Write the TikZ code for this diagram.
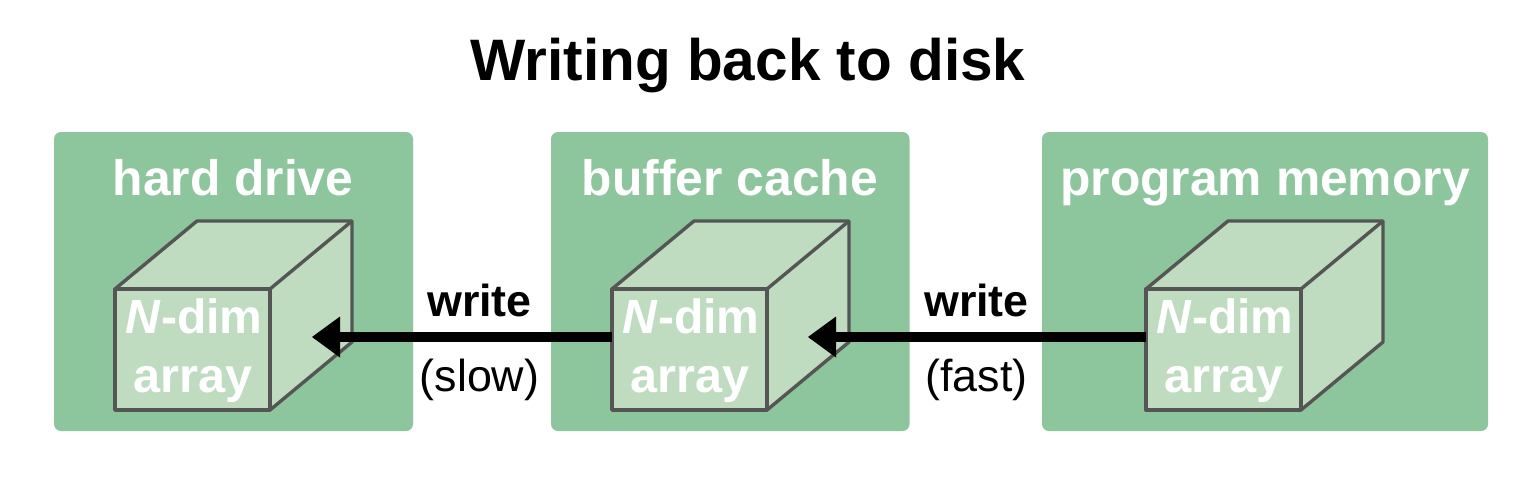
\documentclass[tikz,border=0pt]{standalone}
\usepackage{fontspec}
\setmainfont{Liberation Sans}
\usetikzlibrary{arrows.meta}
\definecolor{boxg}{HTML}{8DC59C}
\definecolor{faceg}{HTML}{BFDCC1}
\definecolor{edgeg}{HTML}{555555}
\tikzset{x=1pt,y=-1pt,
 panel/.style={fill=boxg,rounded corners=7pt,draw=none},
 cubeface/.style={fill=faceg,draw=edgeg,line width=3.4pt,line join=round},
 paneltitle/.style={text=white,font=\bfseries\fontsize{49.8}{50}\selectfont,inner sep=0,anchor=base},
 facetext/.style={text=white,font=\bfseries\fontsize{48.6}{50}\selectfont,inner sep=0,anchor=base},
 dimtext/.style={text=white,font=\bfseries\fontsize{48}{50}\selectfont,inner sep=0,anchor=base},
 lab/.style={text=black,font=\fontsize{44.8}{45}\selectfont,inner sep=0,anchor=base},
 labb/.style={text=black,font=\bfseries\fontsize{44.8}{45}\selectfont,inner sep=0,anchor=base},
 wr/.style={line width=9.5pt,draw=black,-{Triangle[length=28pt,width=41pt,line width=0pt]}}}
\newcommand{\mycube}[2]{%
 \draw[cubeface] (#1,#2) -- (#1+82,#2-68) -- (#1+237,#2-68) -- (#1+237,#2+53) -- (#1+155,#2+121) -- (#1,#2+121) -- cycle;
 \draw[cubeface] (#1,#2) rectangle (#1+155,#2+121);
 \draw[cubeface,fill=none] (#1+155,#2) -- (#1+237,#2-68);
 \node[dimtext] at (#1+79,#2+44) {\textit{N}-dim};
 \node[facetext] at (#1+78,#2+103) {array};
}
\begin{document}
\begin{tikzpicture}
\useasboundingbox (0,0) rectangle (1540,482);
\fill[white] (0,0) rectangle (1540,482);
\node[inner sep=0,anchor=base,font=\bfseries\fontsize{58.5}{60}\selectfont] (title) at (748,80) {Writing back to disk};
\fill[panel] (54,132) rectangle (413,431);
\fill[panel] (551,132) rectangle (909.5,431);
\fill[panel] (1042,132) rectangle (1488,431);
\node[paneltitle] (t1) at (233,195) {hard drive};
\node[paneltitle] (t2) at (730,195) {buffer cache};
\node[paneltitle] (t3) at (1265,195) {program memory};
\mycube{115}{289}
\mycube{612}{289}
\mycube{1146}{289}
\coordinate (a1) at (612,337);
\coordinate (a2) at (312,337);
\coordinate (b1) at (1146,337);
\coordinate (b2) at (808,337);
\draw[wr] (a1) -- (a2);
\draw[wr] (b1) -- (b2);
\node[labb] (w1) at (479.5,316) {write};
\node[lab] (s1) at (479.5,391) {(slow)};
\node[labb] (w2) at (976.5,316) {write};
\node[lab] (s2) at (976.5,391) {(fast)};
\end{tikzpicture}
\end{document}
